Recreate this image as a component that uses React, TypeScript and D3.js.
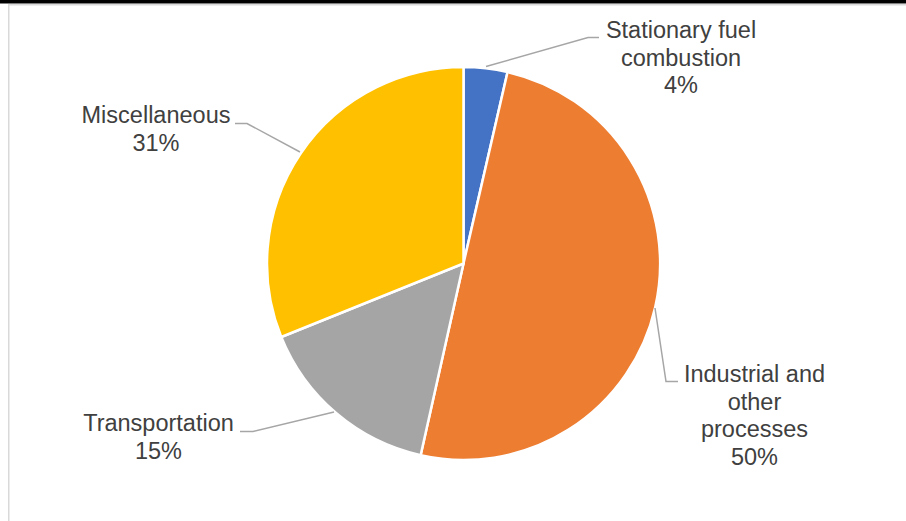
import React from "react";
import * as d3 from "d3";

const categories = ["Stationary fuel combustion", "Industrial and other processes", "Transportation", "Miscellaneous"];
const values = [3.6, 49.9, 15.4, 31.1];
const percentLabels = ["4%", "50%", "15%", "31%"];
const labelLines = [["Stationary fuel", "combustion", "4%"], ["Industrial and", "other", "processes", "50%"], ["Transportation", "15%"], ["Miscellaneous", "31%"]];
const colors = ["#4472C4", "#ED7D31", "#A5A5A5", "#FFC000"];

const W = 906, H = 521;
const cx = 463.5, cy = 263.5, R = 196.5;

// label placement (center x, first baseline y) and leader lines
const labelPos = [
  { x: 681, y: 38, leader: [[486, 66.5], [588, 37.5], [599, 37.5]] },
  { x: 754.5, y: 382, leader: [[655, 308], [666, 381.5], [678, 381.5]] },
  { x: 158.5, y: 431, leader: [[334, 412], [253, 431.5], [240, 431.5]] },
  { x: 156, y: 123, leader: [[300, 152], [247, 123.5], [235, 123.5]] },
];

export default function App() {
  const pie = d3.pie<number>().sort(null).value((d) => d);
  const arcs = pie(values);
  const arc = d3.arc<d3.PieArcDatum<number>>().innerRadius(0).outerRadius(R);
  const line = d3.line();
  return (
    <svg width={W} height={H} style={{ position: "absolute", left: 0, top: 0, background: "#fff" }}
      fontFamily="'Liberation Sans', Arial, sans-serif">
      <rect x={0} y={0} width={W} height={3.5} fill="#000" />
      <line x1={8} y1={4.75} x2={W} y2={4.75} stroke="#d9d9d9" strokeWidth={1.5} />
      <line x1={8.75} y1={4} x2={8.75} y2={H} stroke="#d9d9d9" strokeWidth={1.5} />
      <g transform={`translate(${cx},${cy})`}>
        {arcs.map((a, i) => (
          <path key={categories[i]} d={arc(a) || ""} fill={colors[i]} stroke="#fff" strokeWidth={2.5} strokeLinejoin="round" />
        ))}
      </g>
      {labelPos.map((p, i) => (
        <g key={i}>
          <path d={line(p.leader as [number, number][]) || ""} fill="none" stroke="#a6a6a6" strokeWidth={1.5} />
          <text x={p.x} y={p.y} textAnchor="middle" fontSize={23.5} fill="#404040">
            {labelLines[i].map((t, j) => (
              <tspan key={j} x={p.x} dy={j === 0 ? 0 : 27.7}>{t}</tspan>
            ))}
          </text>
        </g>
      ))}
    </svg>
  );
}
